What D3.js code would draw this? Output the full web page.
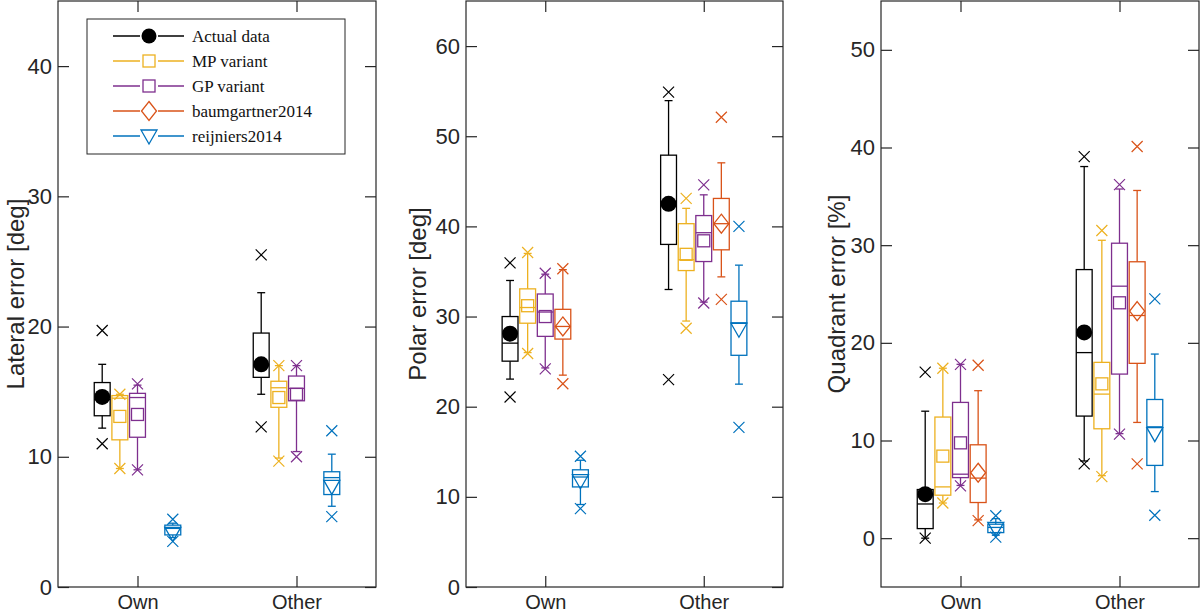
<!DOCTYPE html>
<html lang="en">
<head>
<meta charset="UTF-8">
<title>Model errors</title>
<script src="https://d3js.org/d3.v7.min.js"></script>
<style>
  body { margin: 0; background: #fff; }
  svg { display: block; font-family: "Liberation Sans", Arial, sans-serif; }
  .axis path { display: none; }
  .axis line { stroke: #262626; stroke-width: 1.2; }
  .axis text { fill: #262626; font-size: 22px; }
  .xaxis text { font-size: 20px; }
</style>
</head>
<body>
<svg id="chart" width="1200" height="614"></svg>
<script>
  // groups and models
  const groups = ["Own", "Other"];
  const models = ["Actual data", "MP variant", "GP variant", "baumgartner2014", "reijniers2014"];
  const colors = ["#000000", "#EDB120", "#7E2F8E", "#D95319", "#0072BD"];

  // each entry: [lowX, lowWhisker, q1, median, q3, highWhisker, highX, mean] for Own, Other
  const lateralActual = [[11.0, 12.2, 13.15, 14.4, 15.7, 17.1, 19.7, 14.6], [12.3, 14.8, 16.1, 17.0, 19.5, 22.6, 25.5, 17.1]];
  const lateralMP     = [[9.1, 9.1, 11.3, 14.5, 14.7, 14.8, 14.8, 13.1], [9.67, 9.9, 13.8, 15.3, 15.8, 17.0, 17.0, 14.55]];
  const lateralGP     = [[9.0, 9.0, 11.5, 14.55, 14.87, 15.5, 15.6, 13.25], [10.0, 10.4, 14.3, 15.25, 16.2, 17.0, 17.0, 14.8]];
  const lateralBaum   = null;
  const lateralReij   = [[3.5, 3.8, 4.0, 4.5, 4.75, 4.9, 5.2, 4.2], [5.4, 6.2, 7.1, 8.4, 8.85, 10.2, 12.0, 7.8]];

  const polarActual = [[21.07, 23.06, 25.05, 27.05, 30.0, 34.0, 35.95, 28.1], [23.0, 33.0, 38.0, 42.5, 47.9, 53.95, 54.9, 42.5]];
  const polarMP     = [[25.9, 26.0, 29.26, 31.0, 33.07, 37.0, 37.1, 31.2], [28.7, 29.5, 35.1, 36.3, 40.3, 42.0, 43.1, 36.9]];
  const polarGP     = [[24.2, 24.3, 27.8, 30.5, 32.5, 34.7, 34.8, 30.0], [31.5, 31.6, 36.1, 39.3, 41.2, 43.5, 44.6, 38.4]];
  const polarBaum   = [[22.55, 23.5, 27.5, 28.9, 30.8, 35.2, 35.3, 28.9], [31.9, 34.4, 37.4, 40.3, 43.1, 47.05, 52.1, 40.3]];
  const polarReij   = [[8.7, 9.15, 11.1, 12.2, 13.0, 14.06, 14.5, 11.9], [17.7, 22.5, 25.7, 29.3, 31.7, 35.7, 40.0, 28.7]];

  const quadActual = [[0, 0, 0.98, 3.5, 4.98, 13.0, 17.0, 4.5], [7.6, 7.9, 12.5, 19.0, 27.5, 38.05, 39.07, 21.07]];
  const quadMP     = [[3.6, 3.6, 4.4, 5.25, 12.4, 17.4, 17.4, 8.4], [6.3, 6.4, 11.2, 14.75, 18.0, 30.5, 31.5, 15.8]];
  const quadGP     = [[5.36, 5.4, 6.2, 6.55, 13.9, 17.8, 17.8, 9.76], [10.65, 10.7, 16.8, 25.8, 30.2, 35.75, 36.2, 24.1]];
  const quadBaum   = [[1.8, 1.87, 3.65, 6.15, 9.56, 15.1, 17.7, 6.7], [7.6, 11.85, 17.9, 22.8, 28.3, 35.6, 40.1, 23.25]];
  const quadReij   = [[0.1, 0.3, 0.57, 1.1, 1.43, 2.0, 2.3, 1.1], [2.35, 4.77, 7.45, 11.4, 14.2, 18.85, 24.5, 10.8]];

  // axis settings
  const lateralTicks = [0, 10, 20, 30, 40];
  const polarTicks = [0, 10, 20, 30, 40, 50, 60];
  const quadTicks = [0, 10, 20, 30, 40, 50];

  const panels = [
    { label: "Lateral error [deg]", domain: [0, 45], ticks: lateralTicks, left: 58, right: 376, titleX: 15,
      series: [lateralActual, lateralMP, lateralGP, lateralBaum, lateralReij], legend: true },
    { label: "Polar error [deg]", domain: [0, 65], ticks: polarTicks, left: 466, right: 783, titleX: 417,
      series: [polarActual, polarMP, polarGP, polarBaum, polarReij] },
    { label: "Quadrant error [%]", domain: [-5, 55], ticks: quadTicks, left: 881, right: 1199, titleX: 836,
      series: [quadActual, quadMP, quadGP, quadBaum, quadReij] }
  ];

  const plotTop = 1, plotBottom = 587;
  const spacing = 0.111, boxW = 0.1, capW = 0.05;
  const svg = d3.select("#chart");

  // mean marker for each model
  function marker(g, i, cx, cy, big) {
    const c = colors[i];
    if (i === 0) {
      g.append("circle").attr("cx", cx).attr("cy", cy).attr("r", big ? 8 : 7.5).attr("fill", c);
    } else if (i === 1 || i === 2) {
      g.append("rect").attr("x", cx - 6).attr("y", cy - 6).attr("width", 12).attr("height", 12)
        .attr("fill", "none").attr("stroke", c).attr("stroke-width", 1.3);
    } else if (i === 3) {
      g.append("path").attr("d", `M${cx},${cy - 9.5}L${cx + 7.5},${cy}L${cx},${cy + 9.5}L${cx - 7.5},${cy}Z`)
        .attr("fill", "none").attr("stroke", c).attr("stroke-width", 1.3);
    } else {
      g.append("path").attr("d", `M${cx - 8},${cy - 5}L${cx + 8},${cy - 5}L${cx},${cy + 9}Z`)
        .attr("fill", "none").attr("stroke", c).attr("stroke-width", 1.3);
    }
  }

  function cross(g, cx, cy, color) {
    const s = 5.5;
    g.append("path").attr("d", `M${cx - s},${cy - s}L${cx + s},${cy + s}M${cx - s},${cy + s}L${cx + s},${cy - s}`)
      .attr("stroke", color).attr("stroke-width", 1.2).attr("fill", "none");
  }

  panels.forEach(p => {
    const x = d3.scaleLinear().domain([0.5, 2.5]).range([p.left, p.right]);
    const y = d3.scaleLinear().domain(p.domain).range([plotBottom, plotTop]);
    const g = svg.append("g");

    // boxes
    p.series.forEach((s, i) => {
      if (!s) return;
      const c = colors[i];
      s.forEach((d, gi) => {
        const pos = gi + 1 + (i - 2) * spacing;
        const cx = x(pos);
        const [xLo, wLo, q1, med, q3, wHi, xHi, mean] = d;
        const bg = g.append("g").attr("stroke", c).attr("stroke-width", 1.3).attr("fill", "none");
        bg.append("line").attr("x1", cx).attr("x2", cx).attr("y1", y(wLo)).attr("y2", y(q1));
        bg.append("line").attr("x1", cx).attr("x2", cx).attr("y1", y(q3)).attr("y2", y(wHi));
        [wLo, wHi].forEach(v => bg.append("line")
          .attr("x1", x(pos - capW / 2)).attr("x2", x(pos + capW / 2)).attr("y1", y(v)).attr("y2", y(v)));
        bg.append("rect").attr("x", x(pos - boxW / 2)).attr("y", y(q3))
          .attr("width", x(pos + boxW / 2) - x(pos - boxW / 2)).attr("height", y(q1) - y(q3));
        bg.append("line").attr("x1", x(pos - boxW / 2)).attr("x2", x(pos + boxW / 2)).attr("y1", y(med)).attr("y2", y(med));
        cross(g, cx, y(xLo), c);
        cross(g, cx, y(xHi), c);
        marker(g, i, cx, y(mean), true);
      });
    });

    // axes with inward ticks
    g.append("g").attr("class", "axis").attr("transform", `translate(${p.left},0)`)
      .call(d3.axisLeft(y).tickValues(p.ticks).tickSize(-11).tickPadding(6));
    g.append("g").attr("class", "axis").attr("transform", `translate(${p.right},0)`)
      .call(d3.axisRight(y).tickValues(p.ticks).tickSize(-11).tickFormat(""));
    g.append("g").attr("class", "axis xaxis").attr("transform", `translate(0,${plotBottom})`)
      .call(d3.axisBottom(x).tickValues([1, 2]).tickSize(-11).tickPadding(8).tickFormat(d => groups[d - 1]));
    g.append("g").attr("class", "axis").attr("transform", `translate(0,${plotTop})`)
      .call(d3.axisTop(x).tickValues([1, 2]).tickSize(-11).tickFormat(""));
    g.append("rect").attr("x", p.left).attr("y", plotTop).attr("width", p.right - p.left).attr("height", plotBottom - plotTop)
      .attr("fill", "none").attr("stroke", "#262626").attr("stroke-width", 1.2);

    g.append("text")
      .attr("transform", `translate(${p.titleX},${(plotTop + plotBottom) / 2}) rotate(-90)`)
      .attr("text-anchor", "middle").attr("dominant-baseline", "central")
      .attr("fill", "#262626").style("font-size", "24px").text(p.label);

    if (p.legend) {
      const lg = svg.append("g");
      lg.append("rect").attr("x", 87).attr("y", 19).attr("width", 258).attr("height", 135)
        .attr("fill", "#fff").attr("stroke", "#262626").attr("stroke-width", 1);
      models.forEach((m, i) => {
        const ly = 36 + i * 25;
        lg.append("line").attr("x1", 113).attr("x2", 184).attr("y1", ly).attr("y2", ly)
          .attr("stroke", colors[i]).attr("stroke-width", 1.3);
        lg.append("rect").attr("x", 140).attr("y", ly - 9).attr("width", 18).attr("height", 18).attr("fill", "#fff");
        marker(lg, i, 149, ly + (i === 4 ? -1 : 0), false);
        lg.append("text").attr("x", 192).attr("y", ly).attr("dominant-baseline", "central")
          .style("font-family", "'Liberation Serif', 'Times New Roman', serif").style("font-size", "17px")
          .attr("fill", "#111").text(m);
      });
    }
  });
</script>
</body>
</html>
